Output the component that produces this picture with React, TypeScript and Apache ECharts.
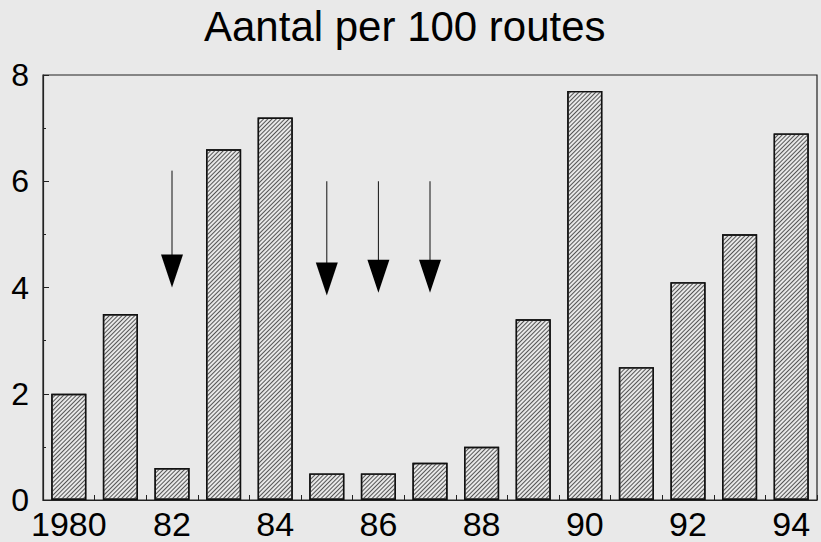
import React, { useEffect, useRef } from "react";
import * as echarts from "echarts";

const years = ["1980","1981","1982","1983","1984","1985","1986","1987","1988","1989","1990","1991","1992","1993","1994"];
const tickLabels = ["1980","81","82","83","84","85","86","87","88","89","90","91","92","93","94"];
const values = [2.0, 3.5, 0.6, 6.6, 7.2, 0.5, 0.5, 0.7, 1.0, 3.4, 7.7, 2.5, 4.1, 5.0, 6.9];
const arrowYears = ["1982", "1985", "1986", "1987"];
const arrowTop = [6.2, 6.0, 6.0, 6.0];
const arrowTip = [4.0, 3.85, 3.9, 3.9];
const yTicks = [0, 2, 4, 6, 8];

const FONT = "'Liberation Sans', Arial, Helvetica, sans-serif";

export default function App() {
  const ref = useRef<HTMLDivElement>(null);
  useEffect(() => {
    if (!ref.current) return;
    const chart = echarts.init(ref.current, null, { renderer: "svg" });
    const arrowData = arrowYears.map((y, i) => [y, arrowTop[i], arrowTip[i]]);
    chart.setOption({
      animation: false,
      backgroundColor: "#e9e9e9",
      textStyle: { fontFamily: FONT },
      title: {
        text: "Aantal per 100 routes",
        left: 199,
        top: 0,
        textStyle: { fontSize: 42, fontWeight: "normal", color: "#000", fontFamily: FONT },
      },
      grid: { left: 43, right: 4, top: 75, bottom: 42, show: true, borderColor: "#222", borderWidth: 1.2, backgroundColor: "transparent" },
      xAxis: {
        type: "category",
        data: years,
        axisLine: { lineStyle: { color: "#222", width: 1.2 } },
        axisTick: { show: true, inside: true, length: 5, interval: 0, alignWithLabel: false, lineStyle: { color: "#222" } },
        axisLabel: {
          interval: 1,
          fontSize: 34,
          color: "#000",
          margin: 7,
          fontFamily: FONT,
          formatter: (v: string) => tickLabels[years.indexOf(v)],
        },
      },
      yAxis: {
        type: "value",
        min: yTicks[0],
        max: yTicks[yTicks.length - 1],
        interval: 2,
        axisLine: { show: true, lineStyle: { color: "#222", width: 1.2 } },
        axisTick: { show: true, inside: true, length: 6, lineStyle: { color: "#222" } },
        minorTick: { show: true, splitNumber: 2, length: 3, lineStyle: { color: "#222" } },
        splitLine: { show: false },
        axisLabel: { fontSize: 32, color: "#000", margin: 14, fontFamily: FONT },
      },
      series: [
        {
          type: "bar",
          data: values,
          barWidth: "68%",
          itemStyle: {
            color: "#e8e8e8",
            borderColor: "#111",
            borderWidth: 1.4,
            decal: {
              symbol: "rect",
              symbolSize: 1,
              dashArrayX: [1, 0],
              dashArrayY: [1, 2],
              rotation: -Math.PI / 4,
              color: "#555",
            },
          },
        },
        {
          type: "custom",
          data: arrowData,
          renderItem: (params: any, api: any) => {
            const top = api.coord([api.value(0), api.value(1)]);
            const tip = api.coord([api.value(0), api.value(2)]);
            const hw = 11;
            const hh = 33;
            return {
              type: "group",
              children: [
                {
                  type: "line",
                  shape: { x1: top[0], y1: top[1], x2: tip[0], y2: tip[1] - hh + 2 },
                  style: { stroke: "#111", lineWidth: 1 },
                },
                {
                  type: "polygon",
                  shape: { points: [[tip[0] - hw, tip[1] - hh], [tip[0] + hw, tip[1] - hh], [tip[0], tip[1]]] },
                  style: { fill: "#000" },
                },
              ],
            };
          },
        },
      ],
    });
    return () => chart.dispose();
  }, []);
  return <div ref={ref} style={{ position: "fixed", left: 0, top: 0, width: 821, height: 542 }} />;
}
